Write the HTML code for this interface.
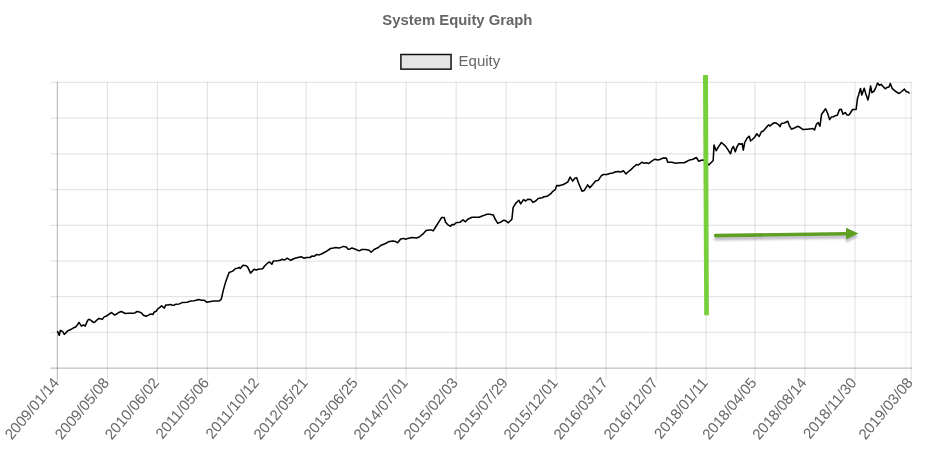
<!DOCTYPE html><html><head><meta charset="utf-8"><title>System Equity Graph</title><style>
html,body{margin:0;padding:0;background:#fff;width:936px;height:456px;overflow:hidden}
svg{display:block;will-change:transform}
text{font-family:"Liberation Sans",Arial,Helvetica,sans-serif}
</style></head><body>
<svg width="936" height="456" viewBox="0 0 936 456">
<rect width="936" height="456" fill="#fff"/>
<text x="382.3" y="24.6" font-size="14.85" font-weight="bold" fill="#666">System Equity Graph</text>
<rect x="400.9" y="54.5" width="50.15" height="14.65" fill="#e5e5e5" stroke="#111" stroke-width="1.5"/>
<text x="458.6" y="65.9" font-size="15" fill="#666">Equity</text>
<line x1="50.5" y1="82.45" x2="911.7" y2="82.45" stroke="rgba(0,0,0,0.1)" stroke-width="1.25"/><line x1="50.5" y1="118.16" x2="911.7" y2="118.16" stroke="rgba(0,0,0,0.1)" stroke-width="1.25"/><line x1="50.5" y1="153.87" x2="911.7" y2="153.87" stroke="rgba(0,0,0,0.1)" stroke-width="1.25"/><line x1="50.5" y1="189.58" x2="911.7" y2="189.58" stroke="rgba(0,0,0,0.1)" stroke-width="1.25"/><line x1="50.5" y1="225.29" x2="911.7" y2="225.29" stroke="rgba(0,0,0,0.1)" stroke-width="1.25"/><line x1="50.5" y1="261.00" x2="911.7" y2="261.00" stroke="rgba(0,0,0,0.1)" stroke-width="1.25"/><line x1="50.5" y1="296.71" x2="911.7" y2="296.71" stroke="rgba(0,0,0,0.1)" stroke-width="1.25"/><line x1="50.5" y1="332.42" x2="911.7" y2="332.42" stroke="rgba(0,0,0,0.1)" stroke-width="1.25"/><line x1="50.5" y1="368.13" x2="911.7" y2="368.13" stroke="rgba(0,0,0,0.25)" stroke-width="1.25"/><line x1="57.40" y1="81.8" x2="57.40" y2="380.5" stroke="rgba(0,0,0,0.25)" stroke-width="1.25"/><line x1="107.40" y1="81.8" x2="107.40" y2="380.5" stroke="rgba(0,0,0,0.1)" stroke-width="1.25"/><line x1="157.40" y1="81.8" x2="157.40" y2="380.5" stroke="rgba(0,0,0,0.1)" stroke-width="1.25"/><line x1="207.40" y1="81.8" x2="207.40" y2="380.5" stroke="rgba(0,0,0,0.1)" stroke-width="1.25"/><line x1="257.40" y1="81.8" x2="257.40" y2="380.5" stroke="rgba(0,0,0,0.1)" stroke-width="1.25"/><line x1="306.15" y1="81.8" x2="306.15" y2="380.5" stroke="rgba(0,0,0,0.1)" stroke-width="1.25"/><line x1="356.15" y1="81.8" x2="356.15" y2="380.5" stroke="rgba(0,0,0,0.1)" stroke-width="1.25"/><line x1="406.15" y1="81.8" x2="406.15" y2="380.5" stroke="rgba(0,0,0,0.1)" stroke-width="1.25"/><line x1="456.15" y1="81.8" x2="456.15" y2="380.5" stroke="rgba(0,0,0,0.1)" stroke-width="1.25"/><line x1="506.15" y1="81.8" x2="506.15" y2="380.5" stroke="rgba(0,0,0,0.1)" stroke-width="1.25"/><line x1="556.15" y1="81.8" x2="556.15" y2="380.5" stroke="rgba(0,0,0,0.1)" stroke-width="1.25"/><line x1="606.15" y1="81.8" x2="606.15" y2="380.5" stroke="rgba(0,0,0,0.1)" stroke-width="1.25"/><line x1="656.15" y1="81.8" x2="656.15" y2="380.5" stroke="rgba(0,0,0,0.1)" stroke-width="1.25"/><line x1="706.15" y1="81.8" x2="706.15" y2="380.5" stroke="rgba(0,0,0,0.1)" stroke-width="1.25"/><line x1="754.90" y1="81.8" x2="754.90" y2="380.5" stroke="rgba(0,0,0,0.1)" stroke-width="1.25"/><line x1="804.90" y1="81.8" x2="804.90" y2="380.5" stroke="rgba(0,0,0,0.1)" stroke-width="1.25"/><line x1="854.90" y1="81.8" x2="854.90" y2="380.5" stroke="rgba(0,0,0,0.1)" stroke-width="1.25"/><line x1="905.70" y1="81.8" x2="905.70" y2="380.5" stroke="rgba(0,0,0,0.045)" stroke-width="1.25"/><line x1="911.2" y1="81.8" x2="911.2" y2="380.5" stroke="rgba(0,0,0,0.1)" stroke-width="1.25"/>
<text transform="translate(56.9,380.5) rotate(-50)" text-anchor="end" dominant-baseline="middle" font-size="15" fill="#666">2009/01/14</text>
<text transform="translate(106.9,380.5) rotate(-50)" text-anchor="end" dominant-baseline="middle" font-size="15" fill="#666">2009/05/08</text>
<text transform="translate(156.9,380.5) rotate(-50)" text-anchor="end" dominant-baseline="middle" font-size="15" fill="#666">2010/06/02</text>
<text transform="translate(206.9,380.5) rotate(-50)" text-anchor="end" dominant-baseline="middle" font-size="15" fill="#666">2011/05/06</text>
<text transform="translate(256.9,380.5) rotate(-50)" text-anchor="end" dominant-baseline="middle" font-size="15" fill="#666">2011/10/12</text>
<text transform="translate(305.6,380.5) rotate(-50)" text-anchor="end" dominant-baseline="middle" font-size="15" fill="#666">2012/05/21</text>
<text transform="translate(355.6,380.5) rotate(-50)" text-anchor="end" dominant-baseline="middle" font-size="15" fill="#666">2013/06/25</text>
<text transform="translate(405.6,380.5) rotate(-50)" text-anchor="end" dominant-baseline="middle" font-size="15" fill="#666">2014/07/01</text>
<text transform="translate(455.6,380.5) rotate(-50)" text-anchor="end" dominant-baseline="middle" font-size="15" fill="#666">2015/02/03</text>
<text transform="translate(505.6,380.5) rotate(-50)" text-anchor="end" dominant-baseline="middle" font-size="15" fill="#666">2015/07/29</text>
<text transform="translate(555.6,380.5) rotate(-50)" text-anchor="end" dominant-baseline="middle" font-size="15" fill="#666">2015/12/01</text>
<text transform="translate(605.6,380.5) rotate(-50)" text-anchor="end" dominant-baseline="middle" font-size="15" fill="#666">2016/03/17</text>
<text transform="translate(655.6,380.5) rotate(-50)" text-anchor="end" dominant-baseline="middle" font-size="15" fill="#666">2016/12/07</text>
<text transform="translate(705.6,380.5) rotate(-50)" text-anchor="end" dominant-baseline="middle" font-size="15" fill="#666">2018/01/11</text>
<text transform="translate(754.4,380.5) rotate(-50)" text-anchor="end" dominant-baseline="middle" font-size="15" fill="#666">2018/04/05</text>
<text transform="translate(804.4,380.5) rotate(-50)" text-anchor="end" dominant-baseline="middle" font-size="15" fill="#666">2018/08/14</text>
<text transform="translate(854.4,380.5) rotate(-50)" text-anchor="end" dominant-baseline="middle" font-size="15" fill="#666">2018/11/30</text>
<text transform="translate(910.6,380.5) rotate(-50)" text-anchor="end" dominant-baseline="middle" font-size="15" fill="#666">2019/03/08</text>
<path d="M57.5,330.9 L58.4,333.5 L59.3,335.3 L60.4,330.4 L61.8,331.0 L63.2,332.3 L64.3,334.4 L66.0,332.8 L67.8,330.7 L70.1,329.8 L72.4,328.6 L73.8,327.7 L75.6,327.0 L77.5,324.7 L79.0,322.4 L80.2,324.2 L81.6,326.1 L83.5,324.9 L85.3,326.1 L86.7,322.4 L88.3,319.6 L89.5,319.4 L91.3,320.6 L93.4,322.4 L95.0,322.1 L96.8,320.1 L99.1,318.4 L100.5,318.7 L102.3,319.4 L104.2,316.9 L106.5,316.0 L108.8,314.4 L111.5,312.5 L114.4,314.9 L116.8,314.0 L118.8,312.4 L121.2,311.5 L123.3,312.5 L125.3,313.5 L128.4,313.2 L132.5,313.3 L134.9,312.9 L137.0,311.5 L139.4,312.0 L141.4,312.9 L143.5,315.2 L146.2,316.3 L148.6,315.1 L150.6,314.0 L153.0,314.4 L154.1,312.2 L156.4,311.0 L157.8,308.8 L159.9,307.4 L161.6,305.7 L162.9,306.9 L164.3,308.1 L165.7,305.1 L168.1,304.9 L170.1,304.4 L172.2,305.3 L174.2,305.0 L176.0,304.2 L179.3,303.9 L182.8,302.4 L187.1,302.2 L190.7,301.0 L194.2,300.7 L198.9,299.5 L201.3,300.3 L204.2,300.2 L207.0,302.3 L210.6,301.6 L214.2,301.0 L219.2,301.0 L221.3,299.2 L223.4,289.9 L225.6,282.1 L229.1,272.5 L232.7,271.1 L235.5,268.5 L237.7,268.2 L239.1,267.4 L240.2,268.5 L243.1,265.2 L246.2,265.7 L247.7,267.1 L250.5,273.1 L254.1,269.2 L256.2,270.0 L258.3,269.2 L262.6,268.8 L264.8,265.7 L268.3,262.5 L269.7,262.1 L271.9,264.3 L273.3,261.1 L277.6,260.7 L280.4,260.3 L281.9,259.3 L284.7,260.0 L287.1,258.2 L290.7,260.3 L294.3,258.5 L297.8,257.5 L301.1,256.8 L304.2,258.2 L306.4,257.5 L309.9,257.5 L312.1,256.0 L314.2,256.3 L316.3,254.6 L319.2,254.9 L322.0,253.8 L325.6,251.8 L330.6,248.5 L333.4,248.1 L335.6,247.5 L339.1,248.1 L343.4,246.4 L346.3,247.1 L348.1,249.2 L349.8,248.9 L352.0,248.1 L355.5,249.2 L359.1,250.9 L361.9,249.5 L365.5,249.6 L369.1,250.3 L371.2,252.3 L374.1,249.5 L378.3,247.5 L381.2,245.2 L385.5,243.5 L388.3,241.8 L392.6,240.9 L395.4,241.4 L397.6,242.8 L400.7,238.9 L403.6,238.4 L405.7,239.2 L407.8,238.4 L412.1,237.4 L416.4,238.0 L419.2,237.0 L422.8,234.2 L426.1,230.6 L429.2,230.0 L431.3,229.9 L433.2,230.9 L435.6,227.0 L439.2,221.3 L441.7,217.5 L444.2,217.5 L445.6,222.3 L447.7,224.6 L450.6,226.3 L452.0,224.6 L454.1,224.6 L456.0,222.8 L459.8,222.3 L463.1,219.9 L465.5,221.8 L467.7,219.2 L472.0,217.2 L474.1,217.2 L479.1,217.2 L483.4,215.6 L486.9,214.2 L489.8,214.2 L493.3,214.9 L494.8,218.5 L497.6,223.2 L500.5,222.3 L503.3,220.3 L505.4,220.6 L508.3,222.8 L511.9,219.2 L513.1,207.7 L515.7,203.4 L518.8,200.2 L520.7,203.9 L523.5,199.6 L525.7,201.0 L527.8,199.2 L530.7,199.6 L533.1,202.4 L535.7,201.0 L538.2,198.5 L542.1,197.7 L544.2,196.7 L547.1,196.3 L550.6,193.9 L552.8,191.3 L555.3,189.6 L556.7,185.6 L559.9,185.6 L563.4,184.5 L567.7,182.1 L570.1,177.1 L572.7,181.1 L574.8,178.2 L576.7,177.8 L578.4,182.8 L582.0,191.3 L584.1,190.6 L587.7,184.9 L589.8,187.8 L592.7,184.5 L595.5,181.1 L598.4,180.2 L601.2,175.9 L603.3,174.5 L606.9,174.5 L609.8,173.5 L612.6,173.1 L615.5,171.7 L618.3,171.4 L620.9,172.1 L623.3,170.7 L626.1,173.9 L627.9,172.0 L630.7,169.9 L633.6,167.0 L636.4,164.6 L638.5,164.9 L641.8,162.3 L644.2,163.2 L646.4,162.8 L648.9,163.5 L651.4,161.3 L654.9,159.2 L657.8,159.9 L659.9,159.5 L662.8,158.1 L666.3,158.1 L667.8,162.3 L672.0,162.3 L675.6,163.2 L679.9,162.8 L684.1,162.8 L686.3,161.8 L689.8,159.9 L693.1,159.2 L696.3,157.5 L698.8,161.3 L701.2,160.3 L703.4,159.9 L708.8,164.9 L711.0,162.7 L713.2,160.5 L714.0,145.0 L716.2,150.7 L718.1,147.4 L721.4,142.5 L725.2,145.8 L727.9,149.6 L730.5,153.8 L731.8,149.0 L733.4,146.3 L735.3,151.8 L736.7,147.4 L738.9,143.6 L740.8,144.3 L742.2,143.6 L743.3,150.1 L744.7,142.5 L747.1,138.1 L749.3,136.2 L750.6,141.0 L752.4,139.5 L754.8,137.0 L756.8,133.7 L759.2,136.4 L761.4,131.8 L763.3,131.0 L766.3,127.5 L768.5,124.9 L770.1,126.0 L771.8,124.2 L774.5,122.7 L776.7,123.3 L778.4,124.6 L780.0,126.6 L781.4,123.5 L784.3,123.0 L787.8,121.3 L789.2,125.3 L791.4,129.2 L794.9,127.7 L797.8,126.3 L799.9,127.3 L803.1,129.6 L807.1,129.2 L811.3,128.7 L812.8,128.5 L814.5,129.9 L816.3,124.5 L818.2,122.5 L819.9,126.3 L821.6,114.2 L825.6,108.8 L827.7,113.5 L829.6,119.6 L831.3,117.1 L833.4,116.8 L835.6,115.6 L837.3,115.3 L839.5,109.6 L841.3,109.2 L843.0,114.2 L845.2,112.5 L847.0,114.9 L849.1,114.9 L851.3,111.5 L852.6,109.5 L856.1,109.5 L857.5,98.3 L858.8,94.4 L860.5,88.5 L861.8,95.0 L862.7,92.6 L864.2,88.2 L865.8,93.9 L868.0,99.9 L869.3,93.9 L870.6,86.0 L871.9,92.6 L874.1,91.1 L875.9,87.3 L877.6,83.0 L879.4,85.2 L881.1,84.4 L883.3,86.7 L885.2,88.8 L886.8,87.6 L889.0,87.1 L890.3,83.4 L892.3,88.7 L894.7,90.6 L896.9,92.3 L899.1,93.5 L901.7,91.5 L904.4,89.1 L906.1,91.5 L907.9,92.0 L909.6,93.5" fill="none" stroke="#000" stroke-width="1.55" stroke-linejoin="round" stroke-linecap="butt"/>
<defs><filter id="sh" x="-10%" y="-100%" width="120%" height="400%"><feGaussianBlur in="SourceAlpha" stdDeviation="1.2"/><feOffset dx="0" dy="2.5" result="b"/><feFlood flood-color="#8c8698" flood-opacity="0.55"/><feComposite in2="b" operator="in"/><feMerge><feMergeNode/><feMergeNode in="SourceGraphic"/></feMerge></filter></defs>
<polygon points="703,75 708,75 708.9,315.3 704.2,315.3" fill="#78cf3c"/>
<g filter="url(#sh)"><path d="M715.6,235.6 L847,233.8" stroke="#5fa023" stroke-width="3.6" stroke-linecap="round" fill="none"/><polygon points="846,227.8 858.5,233.4 846,239.6" fill="#5fa023"/></g>
</svg></body></html>
